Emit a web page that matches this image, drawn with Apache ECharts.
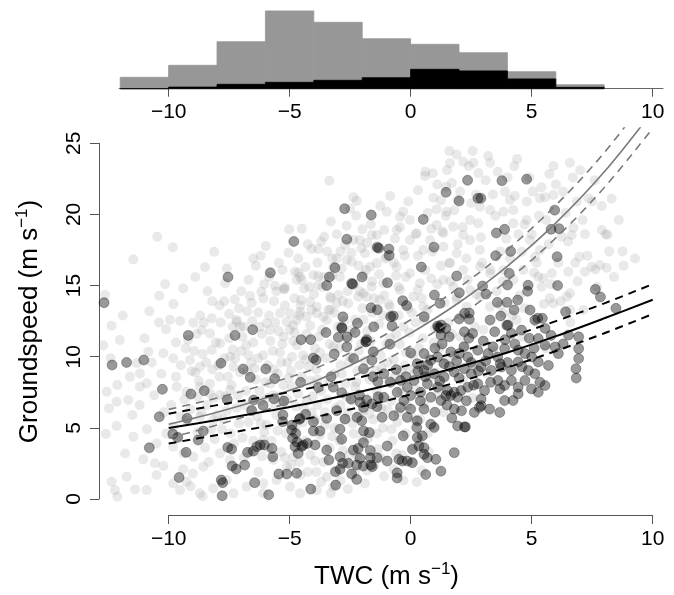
<!DOCTYPE html>
<html><head><meta charset="utf-8">
<script src="https://cdn.jsdelivr.net/npm/echarts@6/dist/echarts.min.js"></script>
<style>html,body{margin:0;padding:0;background:#fff}#c{width:674px;height:595px}</style>
</head><body><div id="c"></div>
<script>
// ---------------- DATA ----------------
const histEdges = [-12,-10,-8,-6,-4,-2,0,2,4,6,8];
const histGray = [57,117,235,389,332,250,222,180,85,20];
const histDark = [0,8,22,32,42,55,97,89,49,7];
const xTicks = [-10,-5,0,5,10];
const yTicks = [0,5,10,15,20,25];
const curveX = [-10,-8,-6,-4,-2,0,2,4,6,8,10];
const graySolid = [5.25,6.1,7.1,8.25,9.8,11.65,13.81,16.37,19.4,22.99,27.25];
const grayUpper = [6.3,7.1,8.05,9.15,10.7,12.6,14.86,17.52,20.65,24.34,28.75];
const grayLower = [4.3,5.2,6.25,7.4,8.95,10.75,12.86,15.37,18.35,21.89,26.05];
const blackSolid = [5.0,5.55,6.16,6.8,7.57,8.4,9.3,10.3,11.45,12.7,14.0];
const blackUpper = [6.0,6.6,7.2,7.85,8.6,9.45,10.35,11.35,12.5,13.75,15.1];
const blackLower = [3.9,4.5,5.1,5.75,6.5,7.35,8.25,9.25,10.4,11.65,13.0];

const lightPts = [
[-3.36,22.37],[-5.02,18.95],[-3.58,18.43],[-2.37,21.2],[-2.23,20.96],[-2.0,18.95],[-10.47,18.43],[-9.83,17.69],[-11.46,16.84],[-8.12,17.38],[-5.99,17.78],[-10.39,14.29],[-12.63,14.34],[-12.36,12.18],[-9.53,12.51],[-8.22,12.7],[-7.67,15.16],[-7.27,14.03],[-6.64,14.27],[-6.57,13.8],[-6.17,14.57],[-6.09,14.1],[-5.61,14.99],[-5.22,14.76],[-4.78,15.97],[-4.57,15.62],[-4.71,15.39],[-4.02,15.74],[-3.82,15.67],[-4.53,13.98],[-4.16,13.86],[-3.88,13.51],[-3.24,16.91],[-3.06,16.91],[-2.64,16.8],[-2.44,16.68],[-2.37,18.2],[-2.1,18.2],[-2.71,17.85],[-1.61,18.55],[-1.4,18.55],[-2.04,17.62],[-1.89,17.27],[-2.99,14.34],[-3.06,13.75],[-2.58,13.75],[-2.17,14.22],[-1.82,14.22],[-1.61,14.92],[-1.96,15.74],[-1.68,16.32],[-5.4,13.05],[-4.99,13.05],[-4.57,13.16],[-7.19,12.46],[-7.05,12.11],[-8.64,11.88],[-8.29,11.64],[-6.23,12.11],[-5.95,12.35],[-5.81,11.88],[-5.12,12.46],[-4.71,12.58],[-4.3,12.81],[-3.88,13.05],[-3.47,12.58],[-3.33,14.22],[-3.33,13.28],[-4.19,14.92],[-3.82,15.04],[-3.2,16.32],[-2.92,15.62],[-2.3,15.16],[-1.96,14.46],[-4.09,17.57],[-3.82,17.57],[-4.64,15.9],[-4.5,15.39],[-5.24,14.74],
[-12.56,7.54],[-12.47,6.37],[-12.15,6.84],[-12.6,4.57],[-12.15,5.13],[-12.02,11.17],[-12.12,8.01],[-11.67,6.96],[-11.46,4.38],[-11.74,1.57],[-12.36,1.22],[-12.22,0.63],[-12.12,0.16],[-11.39,0.68],[-10.91,0.63],[-11.05,2.79],[-11.19,7.89],[-10.91,8.13],[-10.84,10.35],[-10.22,10.24],[-9.81,9.89],[-11.32,9.54],[-11.19,8.83],[-10.57,2.51],[-10.5,1.69],[-10.22,2.32],[-10.11,11.93],[-8.98,12.39],[-9.12,9.77],[-8.71,9.3],[-8.22,10.47],[-7.88,10.94],[-7.47,10.0],[-7.33,9.3],[-9.67,7.89],[-9.26,7.54],[-8.71,7.89],[-8.29,7.43],[-7.88,7.31],[-7.47,7.66],[-8.71,5.78],[-8.16,5.55],[-9.26,5.55],[-9.81,5.08],[-9.81,3.68],[-9.39,3.21],[-8.98,2.97],[-8.57,2.27],[-9.81,1.1],[-9.53,0.63],[-9.26,1.22],[-8.71,0.4],[-8.16,0.75],[-7.6,1.34],[-7.33,0.4],[-6.78,0.86],[-7.88,3.21],[-7.47,2.74],[-6.09,4.15],[-5.68,2.74],[-6.09,1.1],[-5.54,1.34],[-4.99,0.86],[-4.57,0.4],[-5.12,2.27],[-4.85,2.97],[-3.88,0.63],[-3.47,1.57],[-3.2,0.86],
[1.6,24.46],[2.56,24.46],[1.62,23.59],[2.17,23.7],[2.59,23.63],[3.28,23.63],[4.28,23.4],[6.58,23.63],[5.73,22.84],[0.59,22.7],[0.91,22.89],[1.46,21.95],[2.04,21.6],[1.93,21.01],[0.94,21.17],[1.07,20.36],[1.49,20.19],[-0.31,20.19],[-0.03,19.61],[-0.44,19.84],[-0.99,20.19],[-0.58,18.9],[4.1,21.01],[4.24,20.31],[3.83,20.19],[5.34,21.13],[5.89,21.36],[7.89,20.59],[7.34,21.13],[6.86,20.89],[6.72,19.07],[6.24,18.43],[6.65,18.55],[8.05,18.6],[6.97,17.03],[7.48,16.32],[8.1,16.25],[7.82,16.44],[6.58,14.46],[5.48,15.51],[5.83,15.86],[5.14,17.03],[5.34,17.5],[4.59,17.38],[4.93,18.2],[4.24,19.37],[4.79,19.61],[2.45,19.61],[2.79,19.37],[2.86,20.54],[3.28,20.31],[7.13,13.28],[6.51,15.97],[7.2,15.97],[1.76,19.14],[2.17,18.55],[1.07,19.26],[1.35,18.67],[0.8,18.2],[0.25,18.67],[-0.03,18.2],[0.52,17.5],[1.35,17.73],[1.9,17.27],[2.45,18.2],[2.86,17.5],[1.62,16.56],[2.17,16.09],[2.86,16.32],[3.28,15.86],[3.83,16.09],[4.24,15.39],[4.65,16.09],[5.27,15.62],[5.41,14.92],[2.45,14.69],[2.86,14.22],[2.31,13.51],[1.9,13.98],[3.28,13.51],[3.83,13.05],[4.38,12.58],[5.89,13.75],[6.58,13.28],[6.45,14.22],[-0.31,17.5],[-0.58,16.32],[-0.99,17.03],[-1.4,16.56],[-0.03,15.86],[0.38,15.16],[-0.44,14.69],[-1.13,15.16],[-1.27,13.98],[-0.86,13.51],[0.11,14.22],[0.52,13.51],[1.35,15.39],[1.76,14.92],[8.13,18.57],[7.63,16.13],[5.55,21.2],[9.27,16.9],[8.75,17.4],
[-11.8,3.2],[-11.5,5.9],[-11.2,6.6],[-10.9,4.9],[-10.6,7.3],[-10.3,8.8],[-10.7,9.6],[-11.0,11.3],[-10.4,12.4],[-10.2,6.1],[-10.5,3.9],[-10.1,4.6],[-11.6,8.6],[-12.4,9.9],[-11.9,12.9],[-12.7,10.8],[-10.8,13.2],[-10.15,15.1],
[-9.9,6.6],[-9.7,8.6],[-9.5,9.4],[-9.3,10.6],[-9.1,6.3],[-8.9,8.9],[-8.8,4.7],[-8.6,10.2],[-8.4,6.6],[-8.2,9.1],[-8.1,4.2],[-9.6,4.4],[-9.4,2.1],[-9.0,1.8],[-8.5,3.6],[-8.3,8.1],[-9.2,11.2],[-8.7,12.9],[-8.2,13.9],[-9.8,13.7],[-9.4,14.8],[-8.9,15.6],[-8.5,16.3],[-8.05,11.0],[-8.8,7.2],[-9.5,5.8],[-8.0,5.9],[-8.35,2.6],[-9.1,0.9],[-8.6,0.2],
[-7.9,8.6],[-7.7,9.9],[-7.5,11.3],[-7.4,8.0],[-7.2,6.4],[-7.0,10.4],[-6.9,12.1],[-6.8,7.6],[-6.7,5.4],[-6.6,9.6],[-6.5,11.0],[-6.4,8.4],[-6.3,13.1],[-6.2,6.9],[-6.1,10.1],[-6.05,4.7],[-7.8,4.9],[-7.6,6.2],[-7.3,3.9],[-7.1,5.3],[-6.9,2.9],[-6.6,3.3],[-6.3,1.9],[-6.1,0.4],[-7.5,13.0],[-7.0,14.6],[-6.7,15.4],[-6.4,16.4],[-6.2,17.1],[-7.9,13.6],[-7.2,12.6],[-6.8,10.8],[-6.45,9.2],[-7.65,7.2],[-7.05,8.9],[-6.25,7.6],[-6.6,6.2],[-7.35,10.5],[-6.95,4.3],[-6.15,3.0],
[-5.9,9.4],[-5.8,11.1],[-5.7,7.3],[-5.6,12.4],[-5.5,8.8],[-5.4,10.3],[-5.3,6.7],[-5.2,13.6],[-5.1,9.6],[-5.0,11.9],[-4.9,7.9],[-4.8,14.1],[-4.7,10.8],[-4.6,12.9],[-4.5,8.6],[-4.4,6.3],[-4.3,11.6],[-4.2,9.3],[-4.1,13.3],[-4.05,7.2],[-5.95,5.2],[-5.75,4.1],[-5.55,5.9],[-5.35,3.3],[-5.15,4.6],[-4.95,2.4],[-4.75,5.1],[-4.55,1.7],[-4.35,4.1],[-4.15,3.1],[-5.85,15.6],[-5.45,16.6],[-5.05,17.3],[-4.65,16.9],[-4.25,17.9],[-5.65,13.9],[-5.25,11.4],[-4.85,12.2],[-4.45,10.1],[-4.15,8.3],[-5.8,8.1],[-5.45,7.2],[-5.05,8.5],[-4.6,9.4],[-4.3,6.9],[-5.3,10.9],[-4.9,10.0],[-4.4,14.8],[-5.7,10.4],[-5.2,14.9],
[-3.9,9.1],[-3.8,11.4],[-3.7,7.6],[-3.6,12.8],[-3.5,9.9],[-3.4,8.2],[-3.3,14.1],[-3.2,10.7],[-3.1,6.4],[-3.0,12.1],[-2.9,9.4],[-2.8,13.9],[-2.7,8.1],[-2.6,11.2],[-2.5,10.0],[-2.4,6.9],[-2.3,12.6],[-2.2,9.0],[-2.1,14.6],[-2.05,10.9],[-3.95,5.6],[-3.75,4.5],[-3.55,6.1],[-3.35,3.6],[-3.15,5.0],[-2.95,4.1],[-2.75,5.6],[-2.55,3.1],[-2.35,4.6],[-2.15,5.9],[-3.85,16.6],[-3.45,17.4],[-3.05,18.6],[-2.65,19.2],[-2.25,19.9],[-3.65,14.9],[-3.25,15.7],[-2.85,16.2],[-2.45,17.3],[-2.15,16.4],[-3.9,1.9],[-3.6,2.6],[-3.3,0.4],[-2.9,1.3],[-2.6,0.7],[-2.3,1.9],[-3.75,10.3],[-3.15,8.8],[-2.65,7.2],[-2.25,8.2],
[-1.9,9.7],[-1.8,11.8],[-1.7,8.4],[-1.6,13.1],[-1.5,10.4],[-1.4,7.6],[-1.3,12.3],[-1.2,9.2],[-1.1,14.3],[-1.0,10.9],[-0.9,8.3],[-0.8,12.9],[-0.7,9.8],[-0.6,11.6],[-0.5,14.9],[-0.4,8.9],[-0.3,12.1],[-0.2,10.3],[-0.1,13.4],[-0.05,9.1],[-1.95,6.2],[-1.75,4.3],[-1.55,5.6],[-1.35,3.5],[-1.15,5.0],[-0.95,6.3],[-0.75,4.1],[-0.55,5.4],[-0.35,3.1],[-0.15,6.6],[-1.85,16.1],[-1.45,17.6],[-1.05,16.9],[-0.65,18.3],[-0.25,17.1],[-1.65,19.3],[-1.25,20.6],[-0.85,21.3],[-0.45,19.1],[-0.1,20.9],[-1.9,1.1],[-1.5,2.4],[-1.1,1.6],[-0.7,2.1],[-0.3,1.3],[-1.3,7.1],[-0.8,6.9],[-0.4,7.6],[-1.6,15.3],[-0.6,15.7],
[0.1,10.1],[0.2,12.4],[0.3,14.7],[0.4,9.3],[0.5,11.3],[0.6,16.1],[0.7,13.3],[0.8,8.6],[0.9,17.4],[1.0,12.0],[1.1,15.1],[1.2,10.6],[1.3,18.8],[1.4,13.8],[1.5,9.8],[1.6,16.6],[1.7,11.6],[1.8,20.3],[1.9,14.2],[1.95,17.9],[0.15,5.6],[0.35,4.1],[0.55,6.7],[0.75,3.3],[0.95,5.1],[1.15,7.4],[1.35,6.1],[0.25,7.7],[0.05,2.6],[0.45,2.0],[0.3,21.7],[0.7,20.1],[1.1,22.1],[1.5,23.1],[0.2,18.6],[0.85,19.0],[1.25,21.0],[1.7,22.2],[0.6,23.0],[1.9,24.2],
[2.1,12.9],[2.3,16.9],[2.5,20.8],[2.7,14.4],[2.9,18.4],[3.1,22.4],[3.3,16.1],[3.5,19.9],[3.7,13.6],[3.9,21.6],[2.2,10.7],[2.6,9.4],[3.0,11.9],[3.4,10.4],[3.8,15.3],[2.4,23.4],[3.2,24.1],[3.6,23.0],[2.8,22.9],[3.95,18.3],[2.15,8.4],[2.55,7.1],[3.15,8.8],
[4.1,16.9],[4.3,21.3],[4.5,14.3],[4.7,19.3],[4.9,22.6],[5.1,15.9],[5.3,19.9],[5.5,13.7],[5.7,17.9],[5.9,23.4],[4.2,12.9],[4.6,11.4],[5.0,18.6],[5.4,21.9],[5.8,15.1],[4.4,23.9],[5.2,12.4],[5.6,10.6],
[6.1,16.6],[6.3,21.6],[6.5,18.1],[6.7,22.6],[6.9,15.3],[7.1,19.6],[7.3,17.1],[7.5,20.9],[7.7,14.9],[7.9,18.9],[6.2,13.9],[6.6,12.4],[7.0,23.1],[7.6,22.4],
[8.2,17.4],[8.4,15.6],[8.6,19.6],[8.8,16.4],[8.3,21.1],
[-8.95,10.4],[-8.75,8.3],[-8.45,9.6],[-8.15,7.1],[-7.95,9.4],[-7.75,5.6],[-7.55,8.6],[-7.35,12.1],[-7.15,7.3],[-6.95,11.4],[-8.65,6.1],[-8.25,4.9],[-7.85,12.4],[-7.45,4.6],[-7.25,9.9],[-9.35,7.0],[-9.05,9.0],[-8.85,11.6],[-8.55,12.4],[-7.7,13.9],[-7.1,13.4],[-9.7,11.0],[-9.95,12.6],[-8.4,14.6],[-7.6,16.2],
[-6.85,6.6],[-6.75,9.0],[-6.55,12.5],[-6.35,5.8],[-6.15,11.6],[-5.95,7.1],[-5.85,12.9],[-5.65,9.1],[-5.45,11.8],[-5.25,8.0],[-5.1,7.0],[-6.7,10.1],[-6.3,9.9],[-6.0,8.2],[-5.6,6.6],[-5.35,9.6],[-6.5,4.1],[-6.2,5.3],[-5.9,3.6],[-5.5,4.8],[-5.2,2.9],[-6.75,13.2],[-6.05,15.1],[-5.55,14.6],[-5.3,16.1],[-6.5,16.9],
[-4.95,9.0],[-4.85,11.1],[-4.65,7.4],[-4.55,13.6],[-4.35,9.8],[-4.15,12.2],[-3.95,10.6],[-3.85,8.4],[-3.65,11.9],[-3.45,7.0],[-3.35,10.9],[-3.15,13.1],[-4.75,6.5],[-4.45,5.4],[-4.1,6.1],[-3.85,6.6],[-3.55,5.2],[-3.25,4.4],[-4.6,2.6],[-4.25,1.9],[-3.95,2.7],[-3.7,1.2],[-4.8,11.7],[-4.0,14.4],[-3.6,15.6],[-3.4,13.3],[-4.35,16.3],[-3.7,18.1],[-4.5,19.0],[-3.3,19.5],
[-2.95,10.6],[-2.85,8.8],[-2.75,12.5],[-2.55,9.6],[-2.45,11.9],[-2.3,7.9],[-2.15,10.4],[-1.95,12.6],[-1.85,8.9],[-1.65,11.1],[-1.45,9.0],[-1.25,10.1],[-1.15,12.9],[-2.9,6.6],[-2.6,6.1],[-2.4,5.3],[-2.0,4.2],[-1.7,6.0],[-1.4,4.6],[-1.2,6.4],[-2.8,3.4],[-2.2,3.0],[-1.8,2.0],[-1.25,2.9],[-2.6,14.6],[-2.0,13.4],[-1.5,14.1],[-1.3,15.8],[-2.9,17.4],[-1.8,18.0],[-1.1,18.9],[-2.5,20.4],
[-0.95,9.6],[-0.85,11.3],[-0.65,8.6],[-0.45,10.9],[-0.25,9.4],[-0.05,11.7],[0.15,8.8],[0.35,10.6],[0.55,12.6],[0.75,9.9],[0.95,11.0],[-0.9,13.7],[-0.5,12.9],[0.05,13.1],[0.45,14.1],[0.85,15.5],[-0.7,16.6],[-0.2,15.6],[0.3,17.1],[-0.8,4.9],[-0.5,6.1],[-0.2,4.6],[0.1,3.6],[0.4,5.6],[0.7,4.6],[-0.6,3.2],[0.25,1.2],
[1.05,8.9],[1.3,9.6],[1.55,12.4],[1.8,10.1],[2.05,11.4],[2.35,15.4],[2.65,12.1],[2.95,16.6],[1.25,16.4],[1.65,15.3],[1.45,19.9],[2.15,19.1],[2.7,21.4],[1.2,8.0],[1.6,7.2],
[3.4,21.4],[3.7,17.4],[4.0,22.6],[4.45,18.6],[4.8,20.9],[5.05,21.6],[5.6,19.6],[6.0,22.1],[6.4,20.1],[6.8,16.6],[7.2,18.6],[5.2,16.6],[4.7,13.4],[5.75,14.1],[3.55,14.6]
];

const darkPts = [
[-12.67,13.8],[-7.55,15.6],[-5.8,15.9],[-4.83,18.1],[-3.13,16.25],[-3.36,15.6],[-3.47,15.0],[-6.53,11.9],
[-2.73,20.4],[-1.63,19.96],[-2.64,18.25],[-1.38,17.7],[-2.44,15.15],[-2.4,15.1],[-2.01,15.6],[-1.38,13.3],[-2.8,12.8],[-2.84,12.0],[-2.2,12.35],[-2.3,11.7],[-3.5,11.7],[-9.19,11.5],[-7.26,11.5],[-4.53,11.2],[-4.13,11.2],[-2.63,11.4],[-1.82,11.2],
[2.35,22.4],[3.77,22.37],[4.79,22.47],[1.46,21.55],[2.0,20.94],[2.9,21.13],[2.78,21.13],[0.52,19.65],[-0.9,17.57],[-0.89,17.12],[0.96,17.7],[0.44,16.3],[3.54,18.69],[3.88,18.95],[3.51,17.1],[4.13,17.4],[5.95,20.3],[5.8,18.95],[6.13,19.0],[6.05,17.03],[1.9,15.67],[-0.96,15.2],[0.98,14.34],[1.21,13.75],[2.01,14.5],[2.97,14.97],[3.11,14.4],[4.07,15.86],[4.0,15.04],[4.85,15.02],[4.83,14.6],[4.42,13.98],[3.58,13.82],[3.98,13.82],[4.27,13.28],[6.07,15.0],[4.93,13.28],[6.4,13.16],[7.63,14.73],[7.84,14.2],[8.48,13.4],[-0.33,13.94],[-0.17,13.6],[-0.72,12.86],[0.56,12.81],[2.0,12.65],[2.42,12.63],[2.42,13.07],[3.28,12.58],[3.72,12.86],[3.97,12.2],[5.25,12.7],[5.44,12.7],[2.23,13.05],[1.26,12.23],[-1.64,13.44],[-0.83,12.81],[-1.32,17.63],[1.15,12.05],[1.22,12.0],
[-12.34,9.42],[-11.74,9.6],[-11.03,9.77],[-10.26,7.71],[-9.08,7.38],[-8.53,7.61],[-10.39,5.78],[-10.8,3.6],[-9.83,4.57],[-9.63,4.33],[-9.24,5.67],[-9.28,3.28],[-9.57,1.52],[-8.78,4.15],[-7.84,9.54],[-6.92,9.14],[-5.99,9.14],[-6.63,8.55],[-5.62,8.46],[-4.55,8.2],[-7.58,6.98],[-6.49,6.96],[-6.57,6.23],[-6.1,6.58],[-5.65,7.05],[-5.24,6.89],[-5.28,5.9],[-8.57,4.78],[-7.56,3.63],[-7.4,3.51],[-6.74,3.28],[-6.5,3.37],[-6.36,3.68],[-6.22,3.8],[-6.05,3.8],[-5.73,3.56],[-5.7,2.97],[-7.38,2.32],[-7.21,2.11],[-7.83,1.34],[-7.77,1.15],[-6.86,2.39],[-6.45,1.15],[-7.79,0.23],[-5.87,0.3],[-4.02,9.91],[-2.99,11.36],[-3.16,10.19],[-1.86,11.05],[-1.55,10.35],[-3.91,9.77],[-3.29,8.6],[-2.85,7.47],[-2.47,7.03],[-2.12,7.31],[-1.82,6.96],[-1.55,8.6],[-1.36,8.24],[-1.35,7.19],[-1.39,6.49],[-3.82,7.85],[-4.57,5.67],[-4.34,5.95],[-4.02,5.43],[-3.47,5.67],[-4.02,4.78],[-3.75,4.78],[-5.29,5.43],[-4.92,4.85],[-4.88,4.27],[-4.78,3.68],[-4.65,3.21],[-4.44,3.8],[-4.27,3.91],[-3.95,3.8],[-3.47,3.44],[-3.38,2.74],[-2.92,2.97],[-2.81,2.51],[-2.58,2.51],[-3.11,1.92],[-2.92,2.09],[-2.37,3.44],[-2.17,3.56],[-2.1,2.86],[-2.23,2.39],[-1.96,2.32],[-1.65,2.39],[-1.59,2.27],[-2.44,1.76],[-2.23,1.38],[-5.45,1.76],[-5.12,1.76],[-4.71,1.81],[-4.13,0.7],[-3.1,0.98],[-4.9,5.2],[-4.75,4.6],[-4.7,4.0],[-4.6,5.6],[-4.5,3.7],
[-2.85,12.06],[-1.53,12.1],[-0.77,12.16],[-1.84,11.05],[-0.86,10.88],[0.0,10.27],[1.11,12.16],[1.45,11.99],[1.25,11.52],[1.59,11.4],[2.22,11.75],[2.56,11.64],[3.47,11.75],[4.02,12.23],[4.16,11.64],[4.58,11.87],[5.55,11.99],[5.13,12.58],[6.52,11.52],[6.94,11.4],[6.94,10.57],[6.94,9.87],[6.83,9.16],[6.84,8.5],
[0.55,10.22],[0.83,9.75],[1.11,9.98],[1.38,9.51],[1.66,10.34],[2.01,10.22],[2.36,9.98],[2.77,10.46],[3.19,10.22],[3.6,9.98],[3.88,10.57],[4.44,10.46],[4.72,10.22],[5.0,9.98],[5.27,9.63],[5.69,9.39],[6.1,10.22],[5.97,10.69],[5.55,10.81],[5.27,11.28],[4.44,9.63],[4.16,9.04],[3.75,9.28],[3.33,9.04],[2.91,9.28],[2.5,8.8],[2.22,9.16],[1.8,8.92],[1.38,8.57],[0.97,8.8],[0.69,8.1],[1.11,7.86],[1.52,7.62],[1.8,7.5],[2.08,7.62],[1.94,7.15],[1.66,7.27],[2.36,7.86],[2.77,8.1],[3.05,7.62],[3.6,8.33],[3.68,7.74],[3.88,7.98],[4.16,8.33],[4.44,7.86],[4.72,8.33],[4.99,7.74],[5.27,7.5],[5.34,8.21],[5.55,7.98],[4.86,9.04],[5.13,8.8],[0.55,9.04],[0.27,9.51],[0.14,8.33],[-0.14,7.86],[-0.42,8.33],[-0.56,7.5],[-0.28,6.92],[0.0,7.27],[0.41,7.5],[0.83,7.15],[1.25,6.92],[1.45,7.27],[2.91,7.03],[3.26,6.32],[2.91,6.56],[3.68,6.09],[3.88,6.92],[4.23,6.92],[4.44,7.39],[1.8,6.32],[1.94,5.14],[2.22,5.07],[2.63,6.09],[2.84,6.44],
[-2.64,10.69],[-2.36,9.87],[-1.95,9.16],[-1.6,9.75],[-1.11,8.8],[-0.84,8.21],[-3.2,7.86],[-3.06,6.21],[-2.71,5.62],[-2.09,6.8],[-1.95,6.44],[-2.22,5.74],[-2.02,5.5],[-1.6,6.68],[-1.11,7.15],[-1.18,5.74],[-0.7,5.85],[-0.42,6.44],[-0.14,5.74],[0.0,6.32],[0.27,5.5],[0.55,6.32],[0.83,5.26],[0.97,5.03],[-2.92,4.91],[-2.85,4.2],[-1.95,4.79],[-1.71,4.67],[-0.97,3.73],[-1.67,3.42],[-1.95,3.96],[-1.67,2.9],[-1.39,2.9],[-0.97,2.67],[-0.49,2.79],[-0.35,2.67],[0.07,2.55],[-0.14,2.67],[-0.56,1.84],[-0.56,1.48],[0.62,1.72],[1.25,1.96],[0.07,3.49],[0.27,4.32],[0.48,4.44],[0.34,3.73],[0.55,3.61],[0.55,3.14],[0.69,2.9],[1.04,2.79],[-0.31,4.44],[0.25,5.03],[1.8,3.26],[2.26,5.07],
[0.3,9.0],[0.7,9.4],[1.0,10.6],[1.3,10.9],[1.6,9.3],[1.9,9.7],[2.2,10.7],[2.5,9.6],[2.8,9.0],[3.1,9.7],[3.4,10.7],[3.7,9.5],[4.0,9.6],[4.3,10.9],[4.6,9.3],[2.0,8.5],[2.6,8.0],[3.3,8.2],[1.2,8.3],[0.6,8.6],[1.5,6.6],[2.3,6.9],[2.1,6.2],[1.7,5.7],[1.0,6.1],[0.4,6.9],[-0.2,8.6],[-0.6,9.1],[3.9,11.2],[3.0,11.1],[2.4,11.3],[5.8,11.5],[6.3,10.9],[5.1,10.6],[4.9,11.3]
];

// ---------------- CHART ----------------
const FONT = '"Liberation Sans", Arial, Helvetica, sans-serif';
const chart = echarts.init(document.getElementById('c'), null, {renderer:'canvas'});
const pair = (xs, ys) => xs.map((x, i) => [x, ys[i]]);
const histData = (vals) => vals.map((v, i) => [histEdges[i], histEdges[i+1], v]);
const rectItem = (color) => function (params, api) {
  const p0 = api.coord([api.value(0), 0]);
  const p1 = api.coord([api.value(1), api.value(2)]);
  return {type:'rect', shape:{x:p0[0], y:p1[1], width:p1[0]-p0[0], height:p0[1]-p1[1]},
          style:{fill:color, stroke:color, lineWidth:0.8}};
};
const lineS = (ys, color, width, dash, z) => ({
  type:'line', xAxisIndex:0, yAxisIndex:0, data:pair(curveX, ys), smooth:0.35,
  showSymbol:false, symbol:'none', z:z, silent:true,
  lineStyle:{color:color, width:width, type: dash ? [8,6] : 'solid'}
});
const minusFmt = (v) => String(v).replace('-', '\u2212');
const axisLab = {color:'#000', fontSize:21, fontFamily:FONT, formatter:minusFmt};

const option = {
  animation:false,
  backgroundColor:'#fff',
  grid:[
    {left:99, right:0, top:128, bottom:80},            // 0 data
    {left:168.7, width:484, top:128, bottom:80},       // 1 x axis display
    {left:99, top:143.3, height:355.7, width:400},     // 2 y axis display
    {left:119, right:11, top:8.7, height:80},          // 3 histogram data
    {left:168.7, width:484, top:8.7, height:80}        // 4 histogram axis display
  ],
  xAxis:[
    {gridIndex:0, type:'value', min:-12.88, max:10.88, show:false},
    {gridIndex:1, type:'value', min:xTicks[0], max:xTicks[xTicks.length-1], interval:5,
     axisLine:{show:true, lineStyle:{color:'#555', width:1}},
     axisTick:{show:true, length:9, inside:false, lineStyle:{color:'#555'}},
     axisLabel:{...axisLab, margin:14}, splitLine:{show:false}},
    {gridIndex:2, type:'value', min:0, max:1, show:false},
    {gridIndex:3, type:'value', min:-12.05, max:10.43,
     axisLine:{show:true, lineStyle:{color:'#666', width:1}},
     axisTick:{show:false}, axisLabel:{show:false}, splitLine:{show:false}},
    {gridIndex:4, type:'value', min:xTicks[0], max:xTicks[xTicks.length-1], interval:5,
     axisLine:{show:false},
     axisTick:{show:true, length:8, lineStyle:{color:'#555'}},
     axisLabel:{...axisLab, margin:13}, splitLine:{show:false}}
  ],
  yAxis:[
    {gridIndex:0, type:'value', min:-1.12, max:26.07, show:false},
    {gridIndex:1, type:'value', min:0, max:1, show:false},
    {gridIndex:2, type:'value', min:yTicks[0], max:yTicks[yTicks.length-1], interval:5,
     axisLine:{show:true, lineStyle:{color:'#555', width:1}},
     axisTick:{show:true, length:9, lineStyle:{color:'#555'}},
     axisLabel:{...axisLab, rotate:90, margin:14}, splitLine:{show:false}},
    {gridIndex:3, type:'value', min:0, max:400, show:false},
    {gridIndex:4, type:'value', min:0, max:1, show:false}
  ],
  series:[
    {type:'custom', xAxisIndex:3, yAxisIndex:3, data:histData(histGray), renderItem:rectItem('#979797'), encode:{x:[0,1], y:2}, z:2, silent:true},
    {type:'custom', xAxisIndex:3, yAxisIndex:3, data:histData(histDark), renderItem:rectItem('#000000'), encode:{x:[0,1], y:2}, z:3, silent:true},
    {type:'scatter', xAxisIndex:0, yAxisIndex:0, data:lightPts, symbol:'circle', symbolSize:10, z:2, silent:true,
     itemStyle:{color:'rgba(150,150,150,0.26)'}},
    {type:'scatter', xAxisIndex:0, yAxisIndex:0, data:darkPts, symbol:'circle', symbolSize:10, z:3, silent:true,
     itemStyle:{color:'rgba(0,0,0,0.5)', borderColor:'rgba(0,0,0,0.35)', borderWidth:1}},
    lineS(grayUpper, '#7a7a7a', 1.6, true, 4),
    lineS(grayLower, '#7a7a7a', 1.6, true, 4),
    lineS(graySolid, '#7a7a7a', 1.6, false, 4),
    lineS(blackUpper, '#000', 2, true, 5),
    lineS(blackLower, '#000', 2, true, 5),
    lineS(blackSolid, '#000', 2, false, 5)
  ],
  graphic:[
    {type:'text', x:386.5, y:577, z:10, silent:true,
     style:{text:'{a|TWC (m s}{b|\u22121}{a|)}', align:'center', verticalAlign:'middle',
       rich:{a:{fontSize:26, lineHeight:32, fontFamily:FONT, fill:'#000'}, b:{fontSize:17, fontFamily:FONT, fill:'#000', verticalAlign:'top'}}}},
    {type:'text', x:30, y:321.5, rotation:Math.PI/2, z:10, silent:true,
     style:{text:'{a|Groundspeed (m s}{b|\u22121}{a|)}', align:'center', verticalAlign:'middle',
       rich:{a:{fontSize:26, lineHeight:32, fontFamily:FONT, fill:'#000'}, b:{fontSize:17, fontFamily:FONT, fill:'#000', verticalAlign:'top'}}}}
  ]
};
chart.setOption(option);
</script>
</body></html>
